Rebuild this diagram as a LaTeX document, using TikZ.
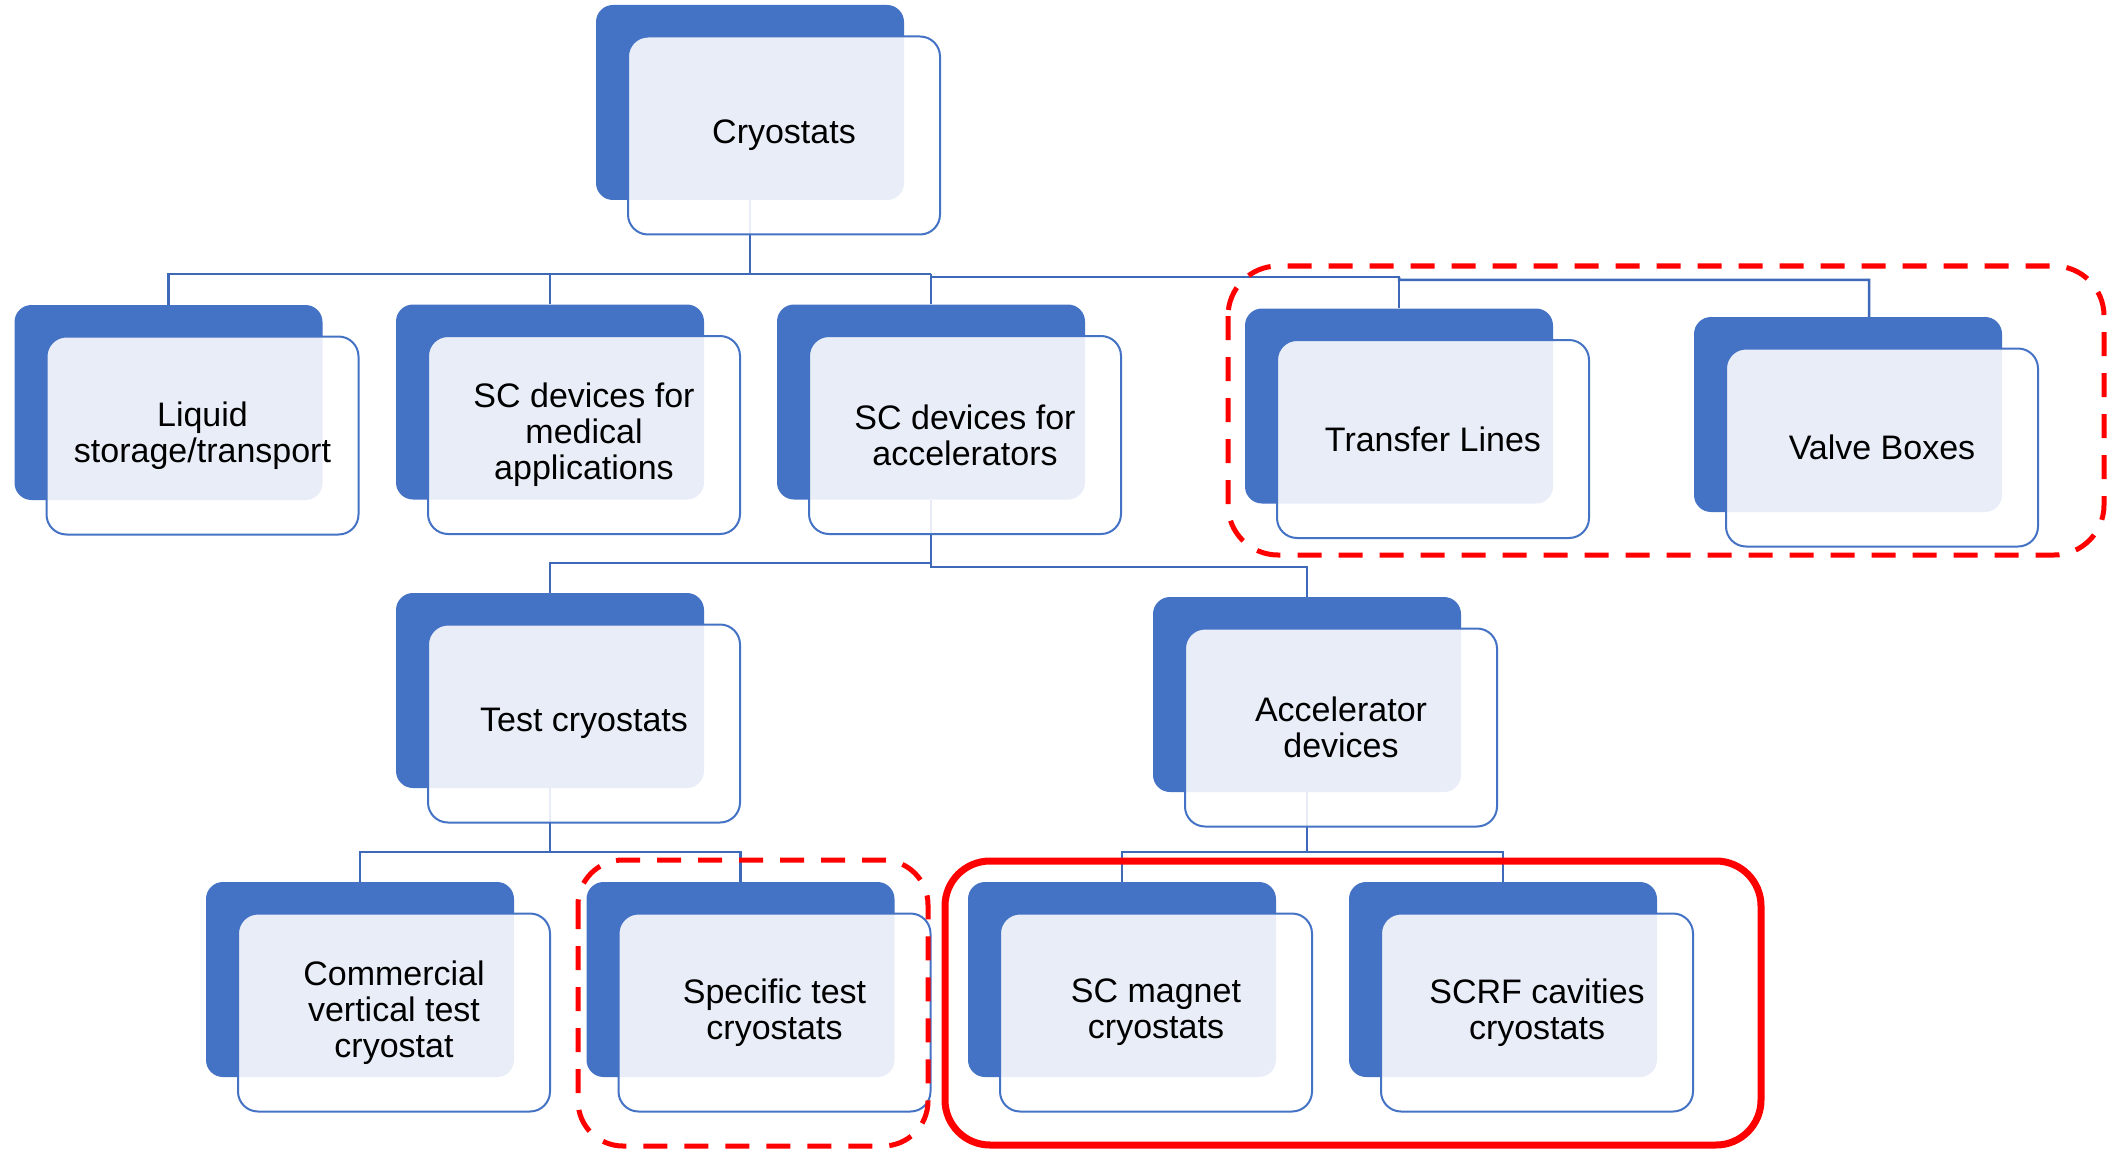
\documentclass[tikz,border=0pt]{standalone}
\usepackage{fontspec}
\setmainfont{Liberation Sans}
\usetikzlibrary{calc}
\pgfdeclarelayer{back}
\pgfdeclarelayer{bg}
\pgfsetlayers{back,bg,main}
\definecolor{acc}{RGB}{68,114,196}
\definecolor{accline}{RGB}{62,104,184}
\definecolor{redc}{RGB}{255,0,0}
\newcommand\mybox[4]{%
  \node[darkbox] (#1D) at (#2,#3) {};
  \node[lightbox] (#1) at (#2+34,#3+33) {#4};
}
\begin{document}
\begin{tikzpicture}[x=1pt,y=-1pt,
  darkbox/.style={rectangle, rounded corners=17pt, fill=acc, minimum width=308pt, minimum height=195pt, inner sep=0pt},
  lightbox/.style={rectangle, rounded corners=20pt, fill=white, fill opacity=0.88, text opacity=1, draw=acc, draw opacity=1, line width=2pt, minimum width=312pt, minimum height=198pt, inner sep=0pt, align=center, font=\fontsize{34}{36}\selectfont},
  conn/.style={draw=accline, line width=2.5pt},
  reddash/.style={draw=redc, line width=5pt, dash pattern=on 24pt off 17pt, rounded corners=50pt},
  redsolid/.style={draw=redc, line width=7pt, rounded corners=45pt}]
\useasboundingbox (0,0) rectangle (2108,1150);
\begin{pgfonlayer}{back}
  \fill[white] (0,0) rectangle (2108,1150);
\end{pgfonlayer}

\mybox{cry}{750}{102.5}{Cryostats}
\mybox{liq}{168.5}{402.5}{Liquid\\storage/transport}
\mybox{med}{550}{402}{SC devices for\\medical\\applications}
\mybox{acc}{931}{402}{SC devices for\\accelerators}
\mybox{tl}{1399}{406}{Transfer Lines}
\mybox{vb}{1848}{414.5}{Valve Boxes}
\mybox{test}{550}{690.5}{Test cryostats}
\mybox{adev}{1307}{694.5}{Accelerator\\devices}
\mybox{com}{360}{979.5}{Commercial\\vertical test\\cryostat}
\mybox{spec}{740.5}{979.5}{Specific test\\cryostats}
\mybox{mag}{1122}{979.5}{SC magnet\\cryostats}
\mybox{rf}{1503}{979.5}{SCRF cavities\\cryostats}

\begin{pgfonlayer}{bg}
  % level 1
  \draw[conn] (cryD.south) -- (cryD.south |- 0,274);
  \draw[conn] (liqD.north) |- (accD.north |- 0,274);
  \draw[conn] (medD.north) -- (medD.north |- 0,274);
  \draw[conn] (accD.north) -- (accD.north |- 0,274) -- (accD.north |- 0,277) -- (tlD.north |- 0,277) -- (tlD.north);
  \draw[conn] (tlD.north |- 0,277) -- (tlD.north |- 0,280) -- ($(vbD.north)+(21,-37)$) -- ($(vbD.north)+(21,0)$);
  % level 2
  \draw[conn] (accD.south) -- (accD.south |- 0,563) -| (testD.north);
  \draw[conn] (accD.south |- 0,563) -- (accD.south |- 0,567) -| (adevD.north);
  % level 3
  \draw[conn] (testD.south) -- (testD.south |- 0,852) -| (comD.north);
  \draw[conn] (testD.south |- 0,852) -| (specD.north);
  \draw[conn] (adevD.south) -- (adevD.south |- 0,852) -| (magD.north);
  \draw[conn] (adevD.south |- 0,852) -| (rfD.north);
\end{pgfonlayer}

\draw[reddash] (1228,266) rectangle (2104,555);
\draw[reddash, rounded corners=45pt] (578,860) rectangle (928,1146);
\draw[redsolid] (945,861) rectangle (1761,1145);
\end{tikzpicture}
\end{document}
